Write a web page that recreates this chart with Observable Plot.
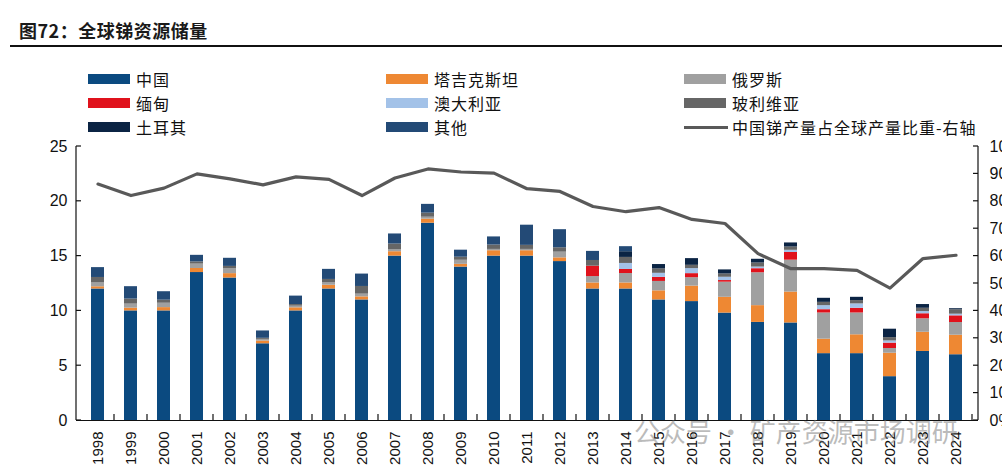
<!DOCTYPE html>
<html>
<head>
<meta charset="utf-8">
<script src="https://cdn.jsdelivr.net/npm/d3@7"></script>
<script src="https://cdn.jsdelivr.net/npm/@observablehq/plot@0.6"></script>
<style>
  html, body { margin: 0; padding: 0; background: #fff; }
  #wrap { position: relative; width: 1002px; height: 471px; overflow: hidden; font-family: "Noto Sans CJK SC", sans-serif; }
  #title { position: absolute; left: 19px; top: 17px; font-size: 18px; font-weight: 700; letter-spacing: 0.5px; color: #1a1a1a; }
  #rule { position: absolute; left: 10px; top: 45px; width: 992px; height: 1.5px; background: #111; }
  .lg { position: absolute; font-size: 16px; letter-spacing: 1px; color: #111; line-height: 20px; white-space: nowrap; }
  .sw { position: absolute; width: 42px; height: 10px; }
  .ln { position: absolute; width: 44px; height: 3px; background: #595959; }
  #wm { position: absolute; left: 634px; top: 412px; font-size: 26px; color: rgba(120,120,120,0.5); letter-spacing: 0px; white-space: nowrap; }
  #chart { position: absolute; left: 0; top: 0; }
</style>
</head>
<body>
<div id="wrap">
  <div id="chart"></div>
  <div id="title">图72：全球锑资源储量</div>
  <div id="rule"></div>
  <div id="legend"></div>
  <div id="wm">公众号 · 矿产资源市场调研</div>
</div>
<script>
// ---- data ----
const years = ["1998","1999","2000","2001","2002","2003","2004","2005","2006","2007","2008","2009","2010","2011","2012","2013","2014","2015","2016","2017","2018","2019","2020","2021","2022","2023","2024"];
const countries = ["中国","塔吉克斯坦","俄罗斯","缅甸","澳大利亚","玻利维亚","土耳其","其他"];
const colors = ["#0b4a80","#ee8833","#a0a0a0","#e0121c","#a3c2e8","#666666","#0b2444","#234a76"];
const lineLabel = "中国锑产量占全球产量比重-右轴";

const china     = [12.0,10.0,10.0,13.5,13.0,7.0,10.0,12.0,11.0,15.0,18.0,14.0,15.0,15.0,14.5,12.0,12.0,11.0,10.85,9.8,8.95,8.9,6.1,6.1,4.0,6.3,6.0];
const tajik     = [0.2,0.25,0.3,0.37,0.4,0.25,0.28,0.34,0.28,0.4,0.37,0.25,0.49,0.49,0.34,0.55,0.55,0.83,1.41,1.44,1.53,2.82,1.32,1.72,2.14,1.75,1.78];
const russia    = [0.35,0.37,0.4,0.4,0.46,0.15,0.15,0.25,0.25,0.2,0.18,0.37,0.12,0.12,0.52,0.58,0.86,0.86,0.77,1.38,3.0,2.91,2.39,1.99,0.43,1.23,1.16];
const myanmar   = [0,0,0,0,0,0,0,0,0,0,0,0,0,0,0,0.95,0.37,0.37,0.37,0.15,0.37,0.7,0.3,0.43,0.49,0.46,0.61];
const australia = [0,0,0,0,0,0,0,0,0,0,0,0,0,0,0,0,0.55,0.37,0.46,0.3,0.15,0.2,0.37,0.4,0.2,0.2,0.15];
const bolivia   = [0.5,0.46,0.28,0.2,0.2,0.1,0.15,0.28,0.7,0.5,0.37,0.28,0.4,0.37,0.4,0.52,0.55,0.4,0.3,0.3,0.37,0.3,0.3,0.3,0.3,0.3,0.4];
const turkey    = [0,0,0,0,0,0,0,0,0,0,0,0,0,0,0,0,0.52,0.4,0.61,0.37,0.34,0.37,0.37,0.3,0.77,0.34,0.1];
const other     = [0.9,1.13,0.77,0.6,0.74,0.67,0.77,0.92,1.13,0.92,0.8,0.64,0.74,1.84,1.65,0.83,0.46,0,0,0,0,0,0,0,0,0,0];
const chinaShare = [86.3,82.1,84.8,90.0,88.2,86.0,88.9,88.0,82.1,88.5,91.8,90.7,90.3,84.6,83.6,78.1,76.2,77.7,73.4,71.9,60.9,55.4,55.4,54.8,48.3,59.1,60.3];

const leftTicks = [0,5,10,15,20,25];
const rightTicks = [0,10,20,30,40,50,60,70,80,90,100];

// ---- build tables ----
const series = [china, tajik, russia, myanmar, australia, bolivia, turkey, other];
const rows = [];
countries.forEach((c, i) => years.forEach((y, j) => rows.push({year: y, country: c, value: series[i][j]})));
const lineRows = years.map((y, j) => ({year: y, share: chinaShare[j]}));
const toLeft = p => p / 4; // right axis 0–100% maps onto left 0–25

const plot = Plot.plot({
  width: 1002,
  height: 471,
  marginLeft: 76,
  marginRight: 24,
  marginTop: 146,
  marginBottom: 51,
  style: {fontFamily: "'Liberation Sans', Arial, sans-serif", color: "#111", background: "transparent"},
  x: {type: "band", domain: years, paddingInner: 0.6, paddingOuter: 0.3},
  y: {domain: [0, 25]},
  color: {domain: countries, range: colors},
  marks: [
    Plot.barY(rows, {x: "year", y: "value", fill: "country", z: "country", order: countries}),
    Plot.line(lineRows, {x: "year", y: d => toLeft(d.share), stroke: "#595959", strokeWidth: 3.2, curve: "linear"}),
    Plot.ruleY([0], {stroke: "#111", strokeWidth: 1.2}),
    Plot.axisY({anchor: "left", ticks: leftTicks, tickSize: 0, tickPadding: 9, fontSize: 16, label: null}),
    Plot.axisY({anchor: "right", ticks: rightTicks.map(toLeft), tickFormat: d => Math.round(d * 4) + "%", tickSize: 0, tickPadding: 11, fontSize: 16, label: null}),
    Plot.axisX({tickRotate: -90, tickSize: 0, tickPadding: 11, fontSize: 15, label: null})
  ]
});
document.getElementById("chart").appendChild(plot);

// axis lines and inward ticks drawn through the plot's own scales
const xs = plot.scale("x"), ys = plot.scale("y");
const svg = d3.select(plot);
const g = svg.append("g").attr("stroke", "#111").attr("stroke-width", 1.2).attr("fill", "none");
const x0 = 76, x1 = 1002 - 24;
const y0 = ys.apply(0), yTop = ys.apply(25);
g.append("line").attr("x1", x0).attr("x2", x0).attr("y1", y0).attr("y2", yTop);
g.append("line").attr("x1", x1).attr("x2", x1).attr("y1", y0).attr("y2", yTop);
leftTicks.forEach(v => g.append("line").attr("x1", x0).attr("x2", x0 + 5).attr("y1", ys.apply(v)).attr("y2", ys.apply(v)));
rightTicks.forEach(v => g.append("line").attr("x1", x1).attr("x2", x1 - 5).attr("y1", ys.apply(toLeft(v))).attr("y2", ys.apply(toLeft(v))));
const step = xs.apply(years[1]) - xs.apply(years[0]);
const bw = xs.bandwidth;
years.forEach(y => {
  const bx = xs.apply(y) + bw / 2 + step / 2;
  g.append("line").attr("x1", bx).attr("x2", bx).attr("y1", y0).attr("y2", y0 - 6);
});

// legend
const legend = document.getElementById("legend");
const cols = [88, 386, 684];
const rowsY = [74, 98, 122];
const items = countries.map((c, i) => ({label: c, color: colors[i]}));
items.push({label: lineLabel, line: true});
items.forEach((it, i) => {
  const col = i % 3, row = Math.floor(i / 3);
  const sx = cols[col], sy = rowsY[row];
  const sw = document.createElement("div");
  if (it.line) { sw.className = "ln"; sw.style.left = sx + "px"; sw.style.top = (sy + 4) + "px"; }
  else { sw.className = "sw"; sw.style.left = sx + "px"; sw.style.top = sy + "px"; sw.style.background = it.color; }
  legend.appendChild(sw);
  const t = document.createElement("div");
  t.className = "lg";
  t.textContent = it.label;
  t.style.left = (sx + 48) + "px";
  t.style.top = (sy - 5) + "px";
  legend.appendChild(t);
});
</script>
</body>
</html>
